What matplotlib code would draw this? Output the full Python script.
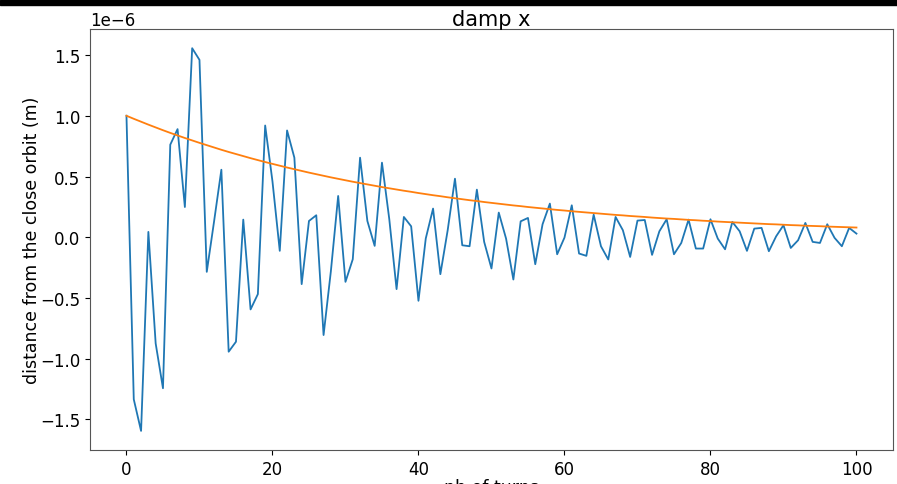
import matplotlib
matplotlib.use("Agg")
import matplotlib.pyplot as plt
from matplotlib.patches import Rectangle

# turn-by-turn horizontal offset from the closed orbit (micrometres)
turns = list(range(101))
offset_um = [
    1.000, -1.334, -1.594, 0.044, -0.874, -1.243, 0.762, 0.890, 0.249, 1.556,
    1.460, -0.285, 0.130, 0.556, -0.942, -0.860, 0.145, -0.594, -0.468, 0.920,
    0.460, -0.112, 0.879, 0.655, -0.386, 0.134, 0.181, -0.805, -0.280, 0.340,
    -0.367, -0.181, 0.655, 0.134, -0.071, 0.614, 0.150, -0.427, 0.167, 0.090,
    -0.523, -0.010, 0.236, -0.304, 0.057, 0.482, -0.066, -0.074, 0.392, -0.038,
    -0.257, 0.203, -0.011, -0.348, 0.131, 0.159, -0.222, 0.107, 0.277, -0.140,
    -0.003, 0.263, -0.134, -0.153, 0.186, -0.074, -0.183, 0.167, 0.058, -0.162,
    0.137, 0.142, -0.145, 0.049, 0.148, -0.140, -0.047, 0.145, -0.093, -0.093,
    0.148, -0.011, -0.099, 0.126, 0.049, -0.112, 0.071, 0.077, -0.115, 0.008,
    0.099, -0.088, -0.025, 0.118, -0.038, -0.047, 0.107, -0.005, -0.074, 0.077,
    0.030,
]

# damping envelope (micrometres)
envelope_um = [
    1.000, 0.975, 0.951, 0.927, 0.904, 0.881, 0.859, 0.838, 0.817, 0.797,
    0.777, 0.758, 0.739, 0.720, 0.702, 0.685, 0.668, 0.651, 0.635, 0.619,
    0.604, 0.589, 0.574, 0.560, 0.546, 0.532, 0.519, 0.506, 0.493, 0.481,
    0.469, 0.457, 0.446, 0.435, 0.424, 0.413, 0.403, 0.393, 0.383, 0.374,
    0.364, 0.355, 0.346, 0.338, 0.329, 0.321, 0.313, 0.305, 0.298, 0.290,
    0.283, 0.276, 0.269, 0.262, 0.256, 0.249, 0.243, 0.237, 0.231, 0.225,
    0.220, 0.214, 0.209, 0.204, 0.199, 0.194, 0.189, 0.184, 0.180, 0.175,
    0.171, 0.167, 0.162, 0.158, 0.154, 0.151, 0.147, 0.143, 0.140, 0.136,
    0.133, 0.129, 0.126, 0.123, 0.120, 0.117, 0.114, 0.111, 0.108, 0.106,
    0.103, 0.100, 0.098, 0.095, 0.093, 0.091, 0.088, 0.086, 0.084, 0.082,
    0.080,
]

offset_m = [v * 1e-6 for v in offset_um]
envelope_m = [v * 1e-6 for v in envelope_um]

fig = plt.figure(figsize=(8.97, 4.85), dpi=100)
ax = fig.add_axes([0.1003, 0.070, 0.8952, 0.868])

ax.plot(turns, offset_m, color="#1f77b4", linewidth=1.3)
ax.plot(turns, envelope_m, color="#ff7f0e", linewidth=1.3)

ax.set_title("damp x", fontsize=15, pad=3)
ax.set_xlabel("nb of turns", fontsize=12.5, labelpad=0)
ax.set_ylabel("distance from the close orbit (m)", fontsize=12.5, labelpad=-1)
ax.set_xticks([0, 20, 40, 60, 80, 100])
ax.set_yticks([-1.5e-6, -1.0e-6, -0.5e-6, 0.0, 0.5e-6, 1.0e-6, 1.5e-6])
ax.tick_params(labelsize=12)
ax.yaxis.get_offset_text().set_fontsize(12)
for sp in ax.spines.values():
    sp.set_color("#555555")

# dark rule across the top edge
fig.patches.append(Rectangle((0, 0.988), 1, 0.009, transform=fig.transFigure,
                             color="black", zorder=10))

fig.savefig("out.png", dpi=100)
